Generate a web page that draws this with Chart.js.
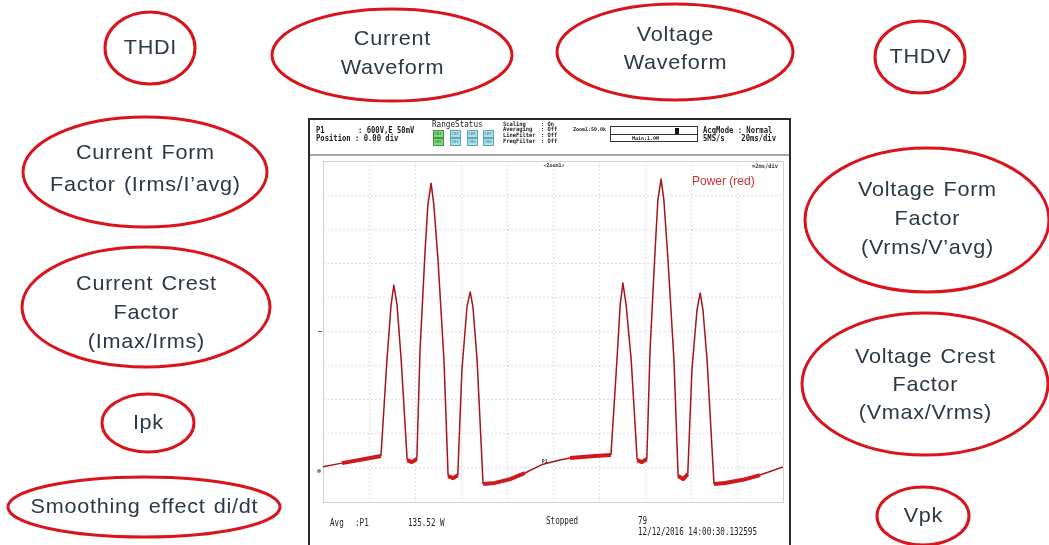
<!DOCTYPE html>
<html>
<head>
<meta charset="utf-8">
<script src="https://cdn.jsdelivr.net/npm/chart.js@4"></script>
<style>
  html, body { margin: 0; padding: 0; background: #fff; }
  canvas { display: block; }
</style>
</head>
<body>
<canvas id="scope" width="1049" height="545"></canvas>
<script>
// trace, in divisions (x: 2ms/div, y: from bottom of grid)
const traceX = [0.00, 0.41, 0.91, 1.26,
  1.39, 1.48, 1.54, 1.61, 1.70, 1.83, 1.93, 2.04,
  2.11, 2.22, 2.28, 2.35, 2.41, 2.50, 2.63, 2.72, 2.83, 2.93,
  3.02, 3.13, 3.20, 3.26, 3.35, 3.48,
  3.74, 4.07, 4.39, 4.78, 5.15, 5.37, 5.91, 6.26,
  6.39, 6.46, 6.52, 6.59, 6.70, 6.83, 6.93, 7.04,
  7.11, 7.22, 7.28, 7.35, 7.41, 7.50, 7.63, 7.72, 7.83, 7.93,
  8.02, 8.13, 8.20, 8.26, 8.35, 8.50,
  8.74, 9.13, 9.50, 10.0];
const traceY = [1.03, 1.14, 1.26, 1.35,
  4.16, 5.78, 6.36, 5.78, 4.16, 1.23, 1.17, 1.26,
  4.46, 7.39, 8.71, 9.35, 8.71, 7.10, 4.16, 0.76, 0.70, 0.79,
  3.87, 5.72, 6.16, 5.72, 4.16, 0.53,
  0.56, 0.67, 0.85, 1.11, 1.23, 1.29, 1.35, 1.38,
  4.16, 5.78, 6.42, 5.78, 4.16, 1.23, 1.17, 1.26,
  4.46, 7.39, 8.86, 9.47, 8.86, 7.10, 4.16, 0.76, 0.67, 0.82,
  3.87, 5.63, 6.13, 5.63, 4.16, 0.53,
  0.56, 0.65, 0.79, 1.03];
// stretches where the trace is a fuzzy band
const noisyRanges = [[0.41, 1.26], [1.83, 2.04], [2.72, 2.93], [3.48, 4.39],
  [5.37, 6.26], [6.83, 7.04], [7.72, 7.93], [8.50, 9.50]];
const divisions = [0, 1, 2, 3, 4, 5, 6, 7, 8, 9, 10];

const points = traceX.map((x, i) => ({ x: x, y: traceY[i] }));

function isNoisy(a, b) {
  return noisyRanges.some(r => a >= r[0] - 0.001 && b <= r[1] + 0.001);
}

// callouts around the scope screen
const callouts = [
  { lines: ['THDI'], cx: 150, cy: 48, rx: 45, ry: 36, ty: [48] },
  { lines: ['Current', 'Waveform'], cx: 392, cy: 55, rx: 120, ry: 46, ty: [39, 68] },
  { lines: ['Voltage', 'Waveform'], cx: 675, cy: 52, rx: 118, ry: 48, ty: [35, 63] },
  { lines: ['THDV'], cx: 920, cy: 57, rx: 45, ry: 36, ty: [57] },
  { lines: ['Current Form', 'Factor (Irms/I\u2019avg)'], cx: 145, cy: 172, rx: 122, ry: 55, ty: [153, 185] },
  { lines: ['Current Crest', 'Factor', '(Imax/Irms)'], cx: 146, cy: 307, rx: 124, ry: 60, ty: [284, 313, 342] },
  { lines: ['Ipk'], cx: 148, cy: 423, rx: 46, ry: 29, ty: [423] },
  { lines: ['Smoothing effect di/dt'], cx: 144, cy: 507, rx: 136, ry: 30, ty: [507] },
  { lines: ['Voltage Form', 'Factor', '(Vrms/V\u2019avg)'], cx: 927, cy: 220, rx: 122, ry: 72, ty: [190, 219, 248] },
  { lines: ['Voltage Crest', 'Factor', '(Vmax/Vrms)'], cx: 925, cy: 384, rx: 123, ry: 71, ty: [357, 385, 413] },
  { lines: ['Vpk'], cx: 923, cy: 516, rx: 46, ry: 29, ty: [516] }
];

function txt(ctx, s, x, y, font, color, align, sx) {
  ctx.save();
  ctx.font = font;
  ctx.fillStyle = color;
  ctx.textAlign = align || 'left';
  ctx.textBaseline = 'middle';
  ctx.translate(x, y);
  ctx.scale(sx || 1, 1);
  ctx.fillText(s, 0, 0);
  ctx.restore();
}

const mono = '"DejaVu Sans Mono", "Liberation Mono", monospace';

const scopeDecor = {
  id: 'scopeDecor',
  beforeDraw(chart) {
    const ctx = chart.ctx;
    ctx.save();
    ctx.fillStyle = '#fff';
    ctx.fillRect(0, 0, chart.width, chart.height);

    // instrument frame
    ctx.strokeStyle = '#2a2a2a';
    ctx.lineWidth = 2;
    ctx.beginPath();
    ctx.moveTo(309, 545); ctx.lineTo(309, 119); ctx.lineTo(790, 119); ctx.lineTo(790, 545);
    ctx.stroke();
    ctx.strokeStyle = '#8a8a8a';
    ctx.lineWidth = 1.5;
    ctx.beginPath();
    ctx.moveTo(310, 155); ctx.lineTo(789, 155);
    ctx.stroke();

    // header
    const hf = 'bold 9px ' + mono;
    txt(ctx, 'P1', 316, 131, hf, '#222', 'left', 0.8);
    txt(ctx, ': 600V,E 50mV', 358, 131, hf, '#222', 'left', 0.8);
    txt(ctx, 'Position : 0.00 div', 316, 139, hf, '#222', 'left', 0.8);
    txt(ctx, 'RangeStatus', 432, 125, '9px ' + mono, '#222', 'left', 0.85);

    const boxX = [433, 450, 467, 483];
    const boxY = [130, 138];
    boxY.forEach((by, r) => {
      boxX.forEach((bx, c) => {
        ctx.fillStyle = c === 0 ? '#86d886' : '#b3e0e8';
        ctx.strokeStyle = c === 0 ? '#3c9a3c' : '#5ea9b6';
        ctx.lineWidth = 1;
        ctx.fillRect(bx, by, 10, 7);
        ctx.strokeRect(bx + 0.5, by + 0.5, 10, 7);
        txt(ctx, 'CH' + (c * 2 + r + 1), bx + 5, by + 4, '4px ' + mono, c === 0 ? '#1f6a1f' : '#3a7e8a', 'center', 1);
      });
    });

    const sf = 'bold 6px ' + mono;
    const sLabels = ['Scaling', 'Averaging', 'LineFilter', 'FreqFilter'];
    const sValues = [': On', ': Off', ': Off', ': Off'];
    sLabels.forEach((s, i) => {
      txt(ctx, s, 503, 124 + i * 5.8, sf, '#222', 'left', 0.9);
      txt(ctx, sValues[i], 541, 124 + i * 5.8, sf, '#222', 'left', 0.9);
    });

    txt(ctx, 'Zoom1:50.0k', 573, 130, 'bold 5px ' + mono, '#222', 'left', 1);
    ctx.strokeStyle = '#333';
    ctx.lineWidth = 1;
    ctx.strokeRect(610.5, 126.5, 87, 8);
    ctx.strokeRect(610.5, 134.5, 87, 7);
    ctx.fillStyle = '#111';
    ctx.fillRect(675, 128, 4, 6);
    txt(ctx, 'Main:1.0M', 632, 139, 'bold 5px ' + mono, '#222', 'left', 1);

    txt(ctx, 'AcqMode : Normal', 703, 131, hf, '#222', 'left', 0.8);
    txt(ctx, '5MS/s', 703, 139, hf, '#222', 'left', 0.8);
    txt(ctx, '20ms/div', 776, 139, hf, '#222', 'right', 0.8);

    // footer
    const ff = '10px ' + mono;
    txt(ctx, 'Avg', 330, 523, ff, '#222', 'left', 0.76);
    txt(ctx, ':P1', 355, 523, ff, '#222', 'left', 0.76);
    txt(ctx, '135.52 W', 408, 523, ff, '#222', 'left', 0.76);
    txt(ctx, 'Stopped', 546, 521, ff, '#222', 'left', 0.76);
    txt(ctx, '79', 638, 521, ff, '#222', 'left', 0.76);
    txt(ctx, '12/12/2016 14:00:30.132595', 638, 532, ff, '#222', 'left', 0.76);

    ctx.restore();
  },
  beforeDatasetsDraw(chart) {
    const ctx = chart.ctx;
    const a = chart.chartArea;
    ctx.save();
    ctx.strokeStyle = '#d2d2d2';
    ctx.lineWidth = 1;
    ctx.strokeRect(a.left + 0.5, a.top + 0.5, a.right - a.left, a.bottom - a.top);
    txt(ctx, '<Zoom1>', 554, 166, 'bold 5px ' + mono, '#333', 'center', 1);
    txt(ctx, '=2ms/div', 778, 166, 'bold 6px ' + mono, '#333', 'right', 0.9);
    // centre marker on the left edge
    const yC = chart.scales.y.getPixelForValue(5);
    ctx.strokeStyle = '#666';
    ctx.beginPath();
    ctx.moveTo(318, yC); ctx.lineTo(322, yC);
    ctx.stroke();
    ctx.restore();
  },
  afterDraw(chart) {
    const ctx = chart.ctx;
    ctx.save();
    const xs = chart.scales.x, ys = chart.scales.y;
    ctx.fillStyle = '#888';
    ctx.beginPath();
    ctx.arc(xs.getPixelForValue(0) - 4, ys.getPixelForValue(0.91), 2, 0, Math.PI * 2);
    ctx.fill();
    txt(ctx, 'P1', xs.getPixelForValue(4.82), ys.getPixelForValue(1.18), 'bold 5px ' + mono, '#333', 'center', 1);
    txt(ctx, 'Power (red)', 692, 182, '12px "Liberation Sans", Arial, sans-serif', '#c9343a', 'left', 1);

    // callout ellipses
    callouts.forEach(c => {
      ctx.strokeStyle = '#d8141c';
      ctx.lineWidth = 3;
      ctx.beginPath();
      ctx.ellipse(c.cx, c.cy, c.rx, c.ry, 0, 0, Math.PI * 2);
      ctx.stroke();
      ctx.save();
      ctx.letterSpacing = '0.7px';
      ctx.wordSpacing = '1.5px';
      c.lines.forEach((s, i) => {
        txt(ctx, s, c.cx + 0.4, c.ty[i], '21px "Liberation Sans", Arial, sans-serif', '#2c3845', 'center', 1.03);
      });
      ctx.restore();
    });
    ctx.restore();
  }
};

new Chart(document.getElementById('scope'), {
  type: 'line',
  data: {
    datasets: [{
      label: 'Power',
      data: points,
      borderColor: '#a3161b',
      borderWidth: 1.5,
      borderJoinStyle: 'round',
      pointRadius: 0,
      tension: 0,
      segment: {
        borderWidth: c => isNoisy(c.p0.parsed.x, c.p1.parsed.x) ? 4 : 1.5,
        borderColor: c => isNoisy(c.p0.parsed.x, c.p1.parsed.x) ? '#cc1a1f' : '#a3161b'
      }
    }]
  },
  plugins: [scopeDecor],
  options: {
    responsive: false,
    animation: false,
    devicePixelRatio: 1,
    layout: { padding: { left: 323, top: 161, right: 266, bottom: 43 } },
    scales: {
      x: {
        type: 'linear',
        min: divisions[0],
        max: divisions[divisions.length - 1],
        ticks: { display: false, stepSize: 1 },
        grid: { color: 'rgba(0,0,0,0.12)', drawTicks: false },
        border: { display: false, dash: [2, 2] }
      },
      y: {
        min: divisions[0],
        max: divisions[divisions.length - 1],
        ticks: { display: false, stepSize: 1 },
        grid: { color: 'rgba(0,0,0,0.12)', drawTicks: false },
        border: { display: false, dash: [2, 2] }
      }
    },
    plugins: {
      legend: { display: false },
      tooltip: { enabled: false }
    }
  }
});
</script>
</body>
</html>
